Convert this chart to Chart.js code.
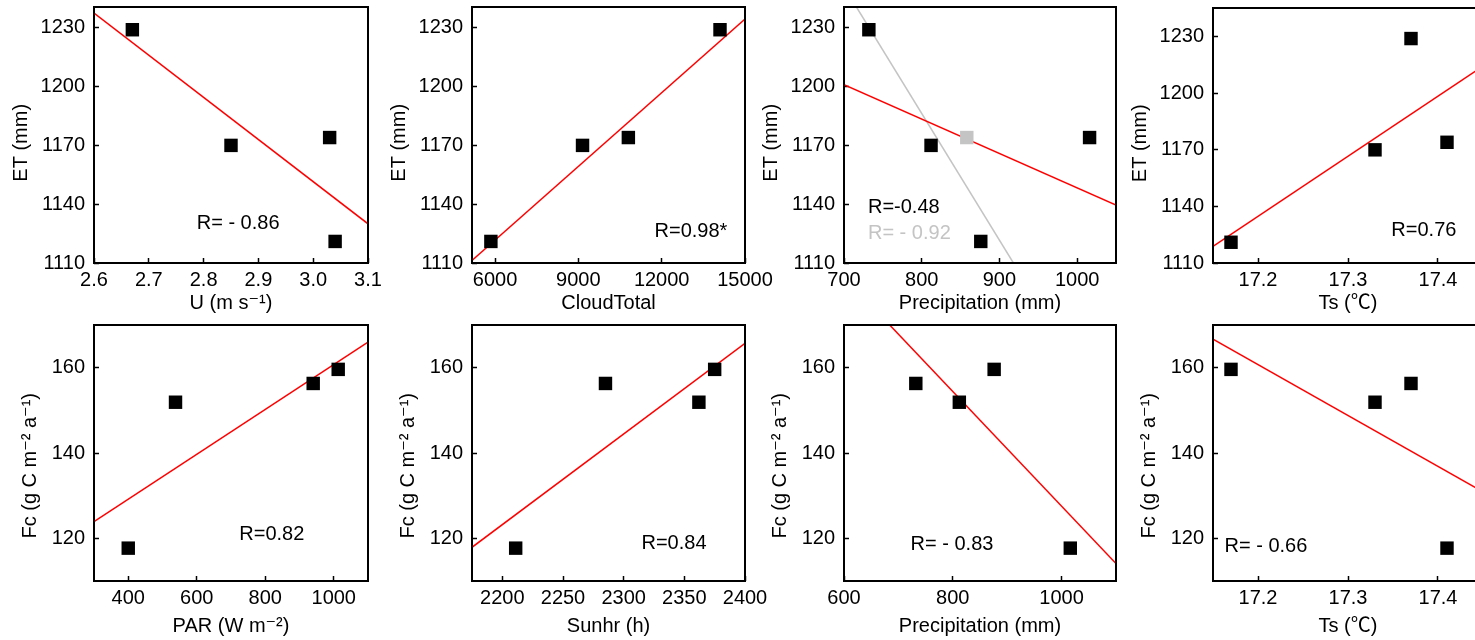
<!DOCTYPE html>
<html>
<head>
<meta charset="utf-8">
<script src="https://cdn.jsdelivr.net/npm/chart.js@4.4.1/dist/chart.umd.min.js"></script>
<style>
  html, body { margin: 0; padding: 0; background: #fff; overflow: hidden; }
  #wrap { position: relative; width: 1475px; height: 640px; overflow: hidden; }
  #wrap canvas { position: absolute; }
</style>
</head>
<body>
<div id="wrap"></div>
<script>
// one value per year, same order in every array
var etMm       = [1229, 1170, 1121, 1174];
var fcFlux     = [156.3, 151.9, 159.6, 117.7];
var windU      = [2.67, 2.85, 3.04, 3.03];
var cloudTotal = [14100, 9150, 5850, 10800];
var precipMm   = [732, 812, 876, 1016];
var soilTs     = [17.37, 17.33, 17.17, 17.41];
var parWm2     = [940, 538, 1013, 400];
var sunHours   = [2285, 2362, 2375, 2211];

// grey point in the precipitation / ET panel
var precipAlt = [858];
var etAlt     = [1174];

// fitted lines, [x, y] end points
var fitEtU      = [[2.6, 1237.5], [3.1, 1130]];
var fitEtCloud  = [[5170, 1111.3], [15000, 1234.5]];
var fitEtPrecip = [[700, 1201], [1050, 1139.5]];
var fitEtPrecipGrey = [[716, 1240.6], [918, 1110]];
var fitEtTs     = [[17.15, 1118.8], [17.45, 1214.4]];
var fitFcPar    = [[300, 123.9], [1100, 166]];
var fitFcSun    = [[2175, 117.9], [2400, 165.7]];
var fitFcPrecip = [[684, 170], [1100, 114.1]];
var fitFcTs     = [[17.15, 166.7], [17.45, 130.9]];

// tick labels
var ticksEt       = [1110, 1140, 1170, 1200, 1230];
var ticksFc       = [120, 140, 160];
var ticksU        = [2.6, 2.7, 2.8, 2.9, 3.0, 3.1];
var ticksCloud    = [6000, 9000, 12000, 15000];
var ticksPrecipT  = [700, 800, 900, 1000];
var ticksTs       = [17.2, 17.3, 17.4];
var ticksPar      = [400, 600, 800, 1000];
var ticksSun      = [2200, 2250, 2300, 2350, 2400];
var ticksPrecipB  = [600, 800, 1000];

var FONT = "'Liberation Sans', Arial, 'Noto Sans CJK SC', 'DejaVu Sans', sans-serif";
Chart.defaults.font.family = FONT;
Chart.defaults.color = '#000';

// trailing spaces push the rotated titles a little lower, as in the figure
var ET_TITLE = 'ET (mm)\u2002\u00A0';
var FC_TITLE = 'Fc (g C m\u207B\u00B2 a\u207B\u00B9)\u2002\u2002\u00A0';

function pts(xs, ys) {
  return xs.map(function (x, i) { return {x: x, y: ys[i]}; });
}
function seg(arr) {
  return arr.map(function (p) { return {x: p[0], y: p[1]}; });
}

// box: plot area [left, top, width, height] in page pixels
var panels = [
  {box: [94, 7, 274, 256], x: windU, y: etMm, xr: [2.6, 3.1], yr: [1110, 1240.6], xt: ticksU, yt: ticksEt, xd: 1,
   xTitle: 'U (m s\u207B\u00B9)', yTitle: ET_TITLE, fits: [fitEtU],
   notes: [{text: 'R= - 0.86', fx: 0.526, fy: 0.844}]},
  {box: [472, 7, 273, 256], x: cloudTotal, y: etMm, xr: [5170, 15000], yr: [1110, 1240.6], xt: ticksCloud, yt: ticksEt, xd: 0,
   xTitle: 'CloudTotal', yTitle: ET_TITLE, fits: [fitEtCloud],
   notes: [{text: 'R=0.98*', fx: 0.802, fy: 0.878}]},
  {box: [844, 7, 272, 256], x: precipMm, y: etMm, xr: [700, 1050], yr: [1110, 1240.6], xt: ticksPrecipT, yt: ticksEt, xd: 0,
   xTitle: 'Precipitation (mm)', yTitle: ET_TITLE, fits: [fitEtPrecip], greyFit: fitEtPrecipGrey,
   grey: pts(precipAlt, etAlt),
   notes: [{text: 'R=-0.48', fx: 0.088, fy: 0.785, align: 'left'},
           {text: 'R= - 0.92', fx: 0.088, fy: 0.883, align: 'left', color: '#c4c4c4'}]},
  {box: [1213, 8, 270, 255], x: soilTs, y: etMm, xr: [17.15, 17.45], yr: [1110, 1245.2], xt: ticksTs, yt: ticksEt, xd: 1,
   xTitle: 'Ts (\u2103)', yTitle: ET_TITLE, fits: [fitEtTs],
   notes: [{text: 'R=0.76', fx: 0.781, fy: 0.871}]},

  {box: [94, 325, 274, 256], x: parWm2, y: fcFlux, xr: [300, 1100], yr: [110, 170], xt: ticksPar, yt: ticksFc, xd: 0,
   xTitle: 'PAR (W m\u207B\u00B2)', yTitle: FC_TITLE, fits: [fitFcPar],
   notes: [{text: 'R=0.82', fx: 0.649, fy: 0.82}]},
  {box: [472, 325, 273, 256], x: sunHours, y: fcFlux, xr: [2175, 2400], yr: [110, 170], xt: ticksSun, yt: ticksFc, xd: 0,
   xTitle: 'Sunhr (h)', yTitle: FC_TITLE, fits: [fitFcSun],
   notes: [{text: 'R=0.84', fx: 0.74, fy: 0.852}]},
  {box: [844, 325, 272, 256], x: precipMm, y: fcFlux, xr: [600, 1100], yr: [110, 170], xt: ticksPrecipB, yt: ticksFc, xd: 0,
   xTitle: 'Precipitation (mm)', yTitle: FC_TITLE, fits: [fitFcPrecip],
   notes: [{text: 'R= - 0.83', fx: 0.397, fy: 0.859}]},
  {box: [1213, 325, 270, 256], x: soilTs, y: fcFlux, xr: [17.15, 17.45], yr: [110, 170], xt: ticksTs, yt: ticksFc, xd: 1,
   xTitle: 'Ts (\u2103)', yTitle: FC_TITLE, fits: [fitFcTs],
   notes: [{text: 'R= - 0.66', fx: 0.196, fy: 0.866}]}
];

// frame round the plot area + the R labels
var framePlugin = {
  id: 'frame',
  afterDatasetsDraw: function (chart, args, opts) {
    var a = chart.chartArea, ctx = chart.ctx;
    ctx.save();
    ctx.strokeStyle = '#000';
    ctx.lineWidth = 2;
    ctx.strokeRect(a.left, a.top, a.right - a.left, a.bottom - a.top);
    ctx.font = '20px ' + FONT;
    ctx.textBaseline = 'middle';
    (opts.notes || []).forEach(function (n) {
      ctx.fillStyle = n.color || '#000';
      ctx.textAlign = n.align || 'center';
      ctx.fillText(n.text, a.left + n.fx * (a.right - a.left), a.top + n.fy * (a.bottom - a.top));
    });
    ctx.restore();
  }
};

var wrap = document.getElementById('wrap');
var PAD_L = 100, PAD_T = 40, PAD_R = 50, PAD_B = 60;

panels.forEach(function (p, idx) {
  var bottomRow = idx >= 4;
  var c = document.createElement('canvas');
  c.width = p.box[2] + PAD_L + PAD_R;
  c.height = p.box[3] + PAD_T + PAD_B;
  c.style.left = (p.box[0] - PAD_L) + 'px';
  c.style.top = (p.box[1] - PAD_T) + 'px';
  wrap.appendChild(c);

  var datasets = [{
    data: pts(p.x, p.y),
    pointStyle: 'rect', pointRadius: 9.5, pointBorderWidth: 0,
    backgroundColor: '#000', showLine: false
  }];
  if (p.grey) {
    datasets.push({
      data: p.grey,
      pointStyle: 'rect', pointRadius: 9.5, pointBorderWidth: 0,
      backgroundColor: '#c4c4c4', showLine: false
    });
  }
  p.fits.forEach(function (f) {
    datasets.push({data: seg(f), showLine: true, pointRadius: 0, borderColor: '#ff0000', borderWidth: 1.5});
  });
  if (p.greyFit) {
    datasets.push({data: seg(p.greyFit), showLine: true, pointRadius: 0, borderColor: '#c4c4c4', borderWidth: 1.5});
  }

  new Chart(c, {
    type: 'scatter',
    data: {datasets: datasets},
    options: {
      responsive: false,
      animation: false,
      events: [],
      layout: {padding: {left: 0, top: PAD_T, right: PAD_R, bottom: 0}},
      plugins: {
        legend: {display: false},
        tooltip: {enabled: false},
        frame: {notes: p.notes}
      },
      scales: {
        x: {
          type: 'linear', min: p.xr[0], max: p.xr[1],
          afterBuildTicks: function (s) { s.ticks = p.xt.map(function (v) { return {value: v}; }); },
          afterFit: function (s) { s.height = PAD_B; },
          ticks: {
            autoSkip: false, maxRotation: 0, padding: 10,
            font: {size: 20}, color: '#000',
            callback: function (v) { return Number(v).toFixed(p.xd); }
          },
          grid: {drawOnChartArea: false, drawTicks: true, tickLength: -5, tickColor: '#000', tickWidth: 1.5},
          border: {display: false},
          title: {display: true, text: p.xTitle, font: {size: 20}, color: '#000',
                  padding: {top: 0, bottom: bottomRow ? 2.5 : 8}}
        },
        y: {
          type: 'linear', min: p.yr[0], max: p.yr[1],
          afterBuildTicks: function (s) { s.ticks = p.yt.map(function (v) { return {value: v}; }); },
          afterFit: function (s) { s.width = PAD_L; },
          ticks: {
            padding: 14, font: {size: 20}, color: '#000',
            callback: function (v) { return String(v); }
          },
          grid: {drawOnChartArea: false, drawTicks: true, tickLength: -5, tickColor: '#000', tickWidth: 1.5},
          border: {display: false},
          title: {display: true, text: p.yTitle, font: {size: 20}, color: '#000',
                  padding: {top: bottomRow ? 24 : 15, bottom: 0}}
        }
      }
    },
    plugins: [framePlugin]
  });
});
</script>
</body>
</html>
